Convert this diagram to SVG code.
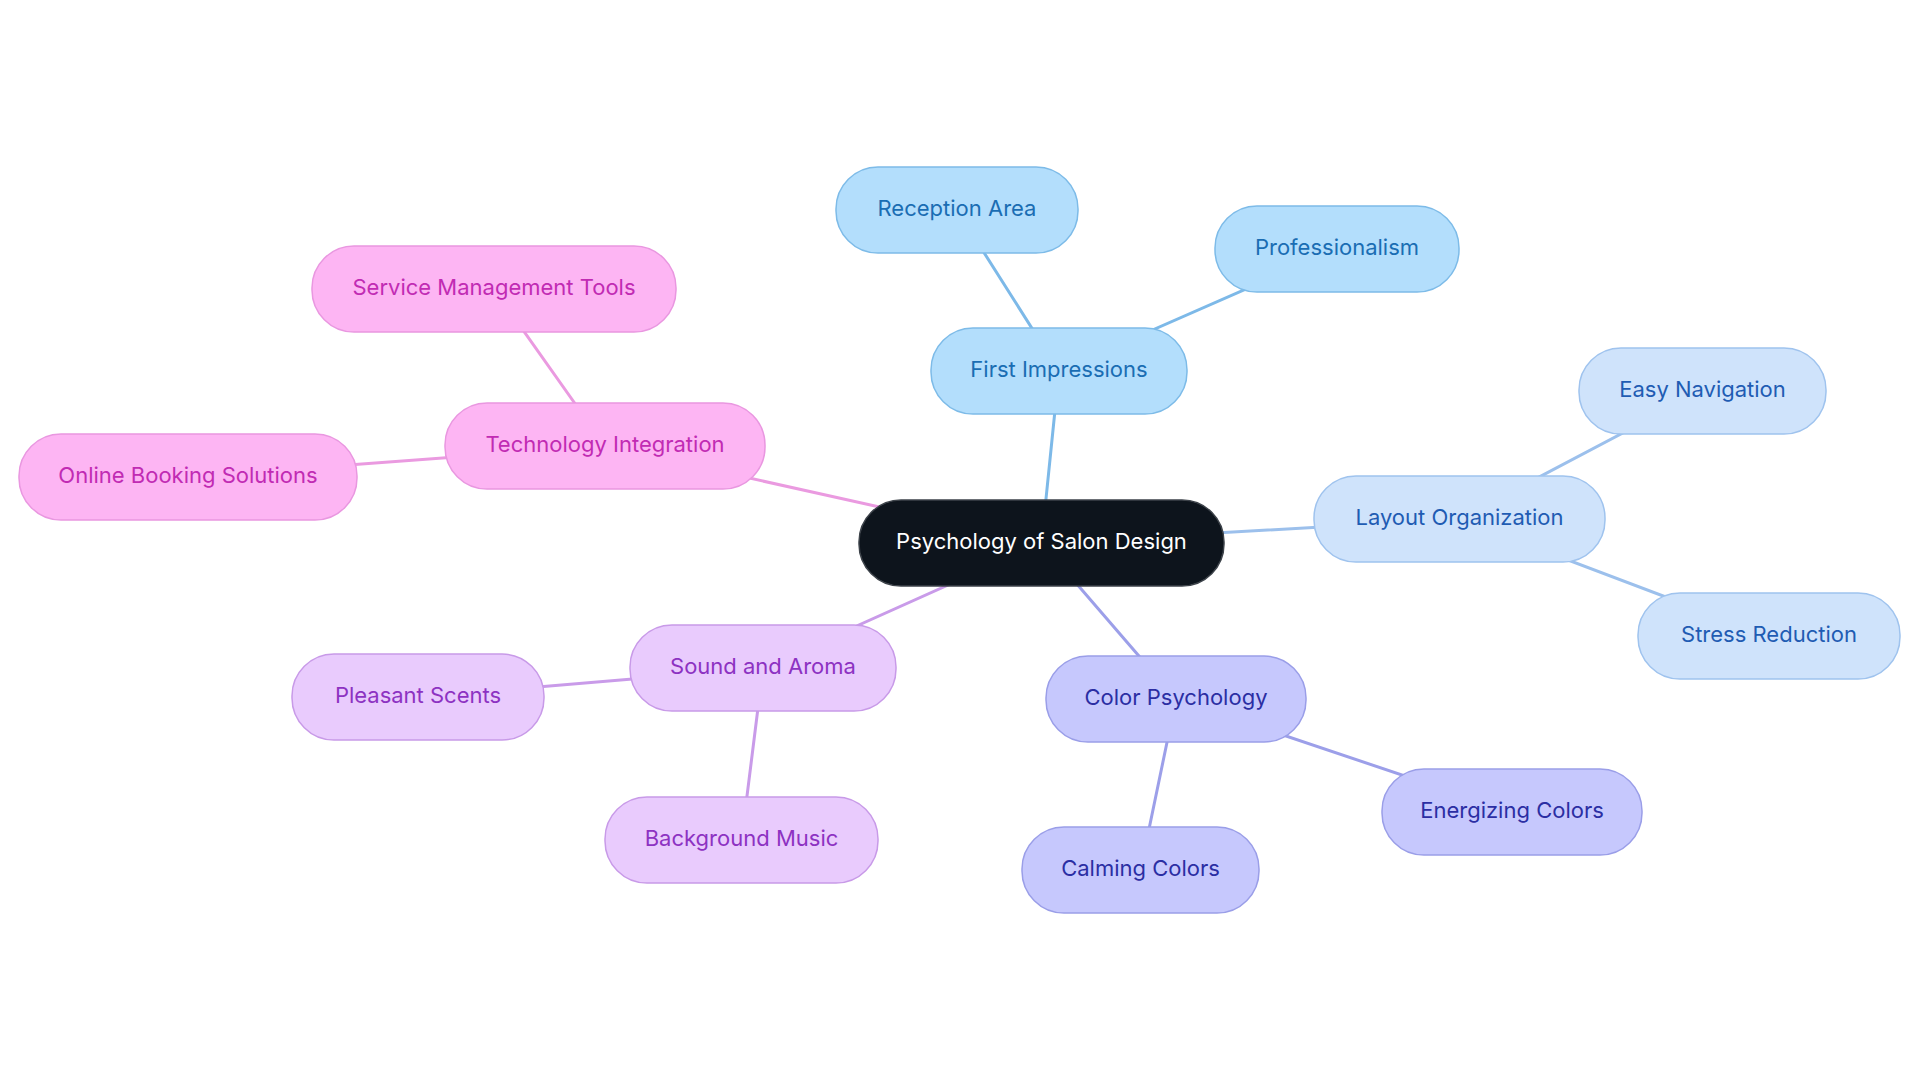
<svg xmlns="http://www.w3.org/2000/svg" width="1920" height="1083" viewBox="0 0 1920 1083">
<style>
text{font-family:Inter,"Noto Sans","Liberation Sans",sans-serif;font-size:22px;text-anchor:middle}
.e{stroke-width:3;fill:none;stroke-linecap:round}
.blue rect{fill:#b3defc;stroke:#7dbbe8;stroke-width:1.5}
.blue text{fill:#1a6db3}
.lblue rect{fill:#cfe3fb;stroke:#9fc3ee;stroke-width:1.5}
.lblue text{fill:#1f5cb3}
.indigo rect{fill:#c6c8fd;stroke:#9a9ee8;stroke-width:1.5}
.indigo text{fill:#2b2ea3}
.violet rect{fill:#e9cbfd;stroke:#c89ae8;stroke-width:1.5}
.violet text{fill:#8d32c2}
.pink rect{fill:#fdb5f3;stroke:#e997e0;stroke-width:1.5}
.pink text{fill:#c12bb3}
</style>
<rect width="1920" height="1083" fill="#ffffff"/>
<g id="connectors">
<line class="e" stroke="#7db9e8" x1="1041.5" y1="543" x2="1059" y2="371"/>
<line class="e" stroke="#7db9e8" x1="1059" y1="371" x2="957" y2="210"/>
<line class="e" stroke="#7db9e8" x1="1059" y1="371" x2="1337" y2="249"/>
<line class="e" stroke="#9cc0ec" x1="1041.5" y1="543" x2="1459.5" y2="519"/>
<line class="e" stroke="#9cc0ec" x1="1459.5" y1="519" x2="1702.5" y2="391"/>
<line class="e" stroke="#9cc0ec" x1="1459.5" y1="519" x2="1769" y2="636"/>
<line class="e" stroke="#9c9fe9" x1="1041.5" y1="543" x2="1176" y2="699"/>
<line class="e" stroke="#9c9fe9" x1="1176" y1="699" x2="1140.5" y2="870"/>
<line class="e" stroke="#9c9fe9" x1="1176" y1="699" x2="1512" y2="812"/>
<line class="e" stroke="#c99be9" x1="1041.5" y1="543" x2="763" y2="668"/>
<line class="e" stroke="#c99be9" x1="763" y1="668" x2="418" y2="697"/>
<line class="e" stroke="#c99be9" x1="763" y1="668" x2="741.5" y2="840"/>
<line class="e" stroke="#ea9ae0" x1="1041.5" y1="543" x2="605" y2="446"/>
<line class="e" stroke="#ea9ae0" x1="605" y1="446" x2="494" y2="289"/>
<line class="e" stroke="#ea9ae0" x1="605" y1="446" x2="188" y2="477"/>
</g>
<g id="center">
<rect x="859" y="500" width="365" height="86" rx="42" fill="#0d141c" stroke="#3c4249" stroke-width="1.5"/>
<text x="1041.5" y="548.5" fill="#ffffff">Psychology of Salon Design</text>
</g>
<g id="first-impressions" class="blue">
<rect x="931" y="328" width="256" height="86" rx="42"/>
<text x="1059" y="376.5">First Impressions</text>
</g>
<g id="reception-area" class="blue">
<rect x="836" y="167" width="242" height="86" rx="42"/>
<text x="957" y="215.5">Reception Area</text>
</g>
<g id="professionalism" class="blue">
<rect x="1215" y="206" width="244" height="86" rx="42"/>
<text x="1337" y="254.5">Professionalism</text>
</g>
<g id="layout-organization" class="lblue">
<rect x="1314" y="476" width="291" height="86" rx="42"/>
<text x="1459.5" y="524.5">Layout Organization</text>
</g>
<g id="easy-navigation" class="lblue">
<rect x="1579" y="348" width="247" height="86" rx="42"/>
<text x="1702.5" y="396.5">Easy Navigation</text>
</g>
<g id="stress-reduction" class="lblue">
<rect x="1638" y="593" width="262" height="86" rx="42"/>
<text x="1769" y="641.5">Stress Reduction</text>
</g>
<g id="color-psychology" class="indigo">
<rect x="1046" y="656" width="260" height="86" rx="42"/>
<text x="1176" y="704.5">Color Psychology</text>
</g>
<g id="calming-colors" class="indigo">
<rect x="1022" y="827" width="237" height="86" rx="42"/>
<text x="1140.5" y="875.5">Calming Colors</text>
</g>
<g id="energizing-colors" class="indigo">
<rect x="1382" y="769" width="260" height="86" rx="42"/>
<text x="1512" y="817.5">Energizing Colors</text>
</g>
<g id="sound-and-aroma" class="violet">
<rect x="630" y="625" width="266" height="86" rx="42"/>
<text x="763" y="673.5">Sound and Aroma</text>
</g>
<g id="pleasant-scents" class="violet">
<rect x="292" y="654" width="252" height="86" rx="42"/>
<text x="418" y="702.5">Pleasant Scents</text>
</g>
<g id="background-music" class="violet">
<rect x="605" y="797" width="273" height="86" rx="42"/>
<text x="741.5" y="845.5">Background Music</text>
</g>
<g id="technology-integration" class="pink">
<rect x="445" y="403" width="320" height="86" rx="42"/>
<text x="605" y="451.5">Technology Integration</text>
</g>
<g id="service-management-tools" class="pink">
<rect x="312" y="246" width="364" height="86" rx="42"/>
<text x="494" y="294.5">Service Management Tools</text>
</g>
<g id="online-booking-solutions" class="pink">
<rect x="19" y="434" width="338" height="86" rx="42"/>
<text x="188" y="482.5">Online Booking Solutions</text>
</g>
</svg>
